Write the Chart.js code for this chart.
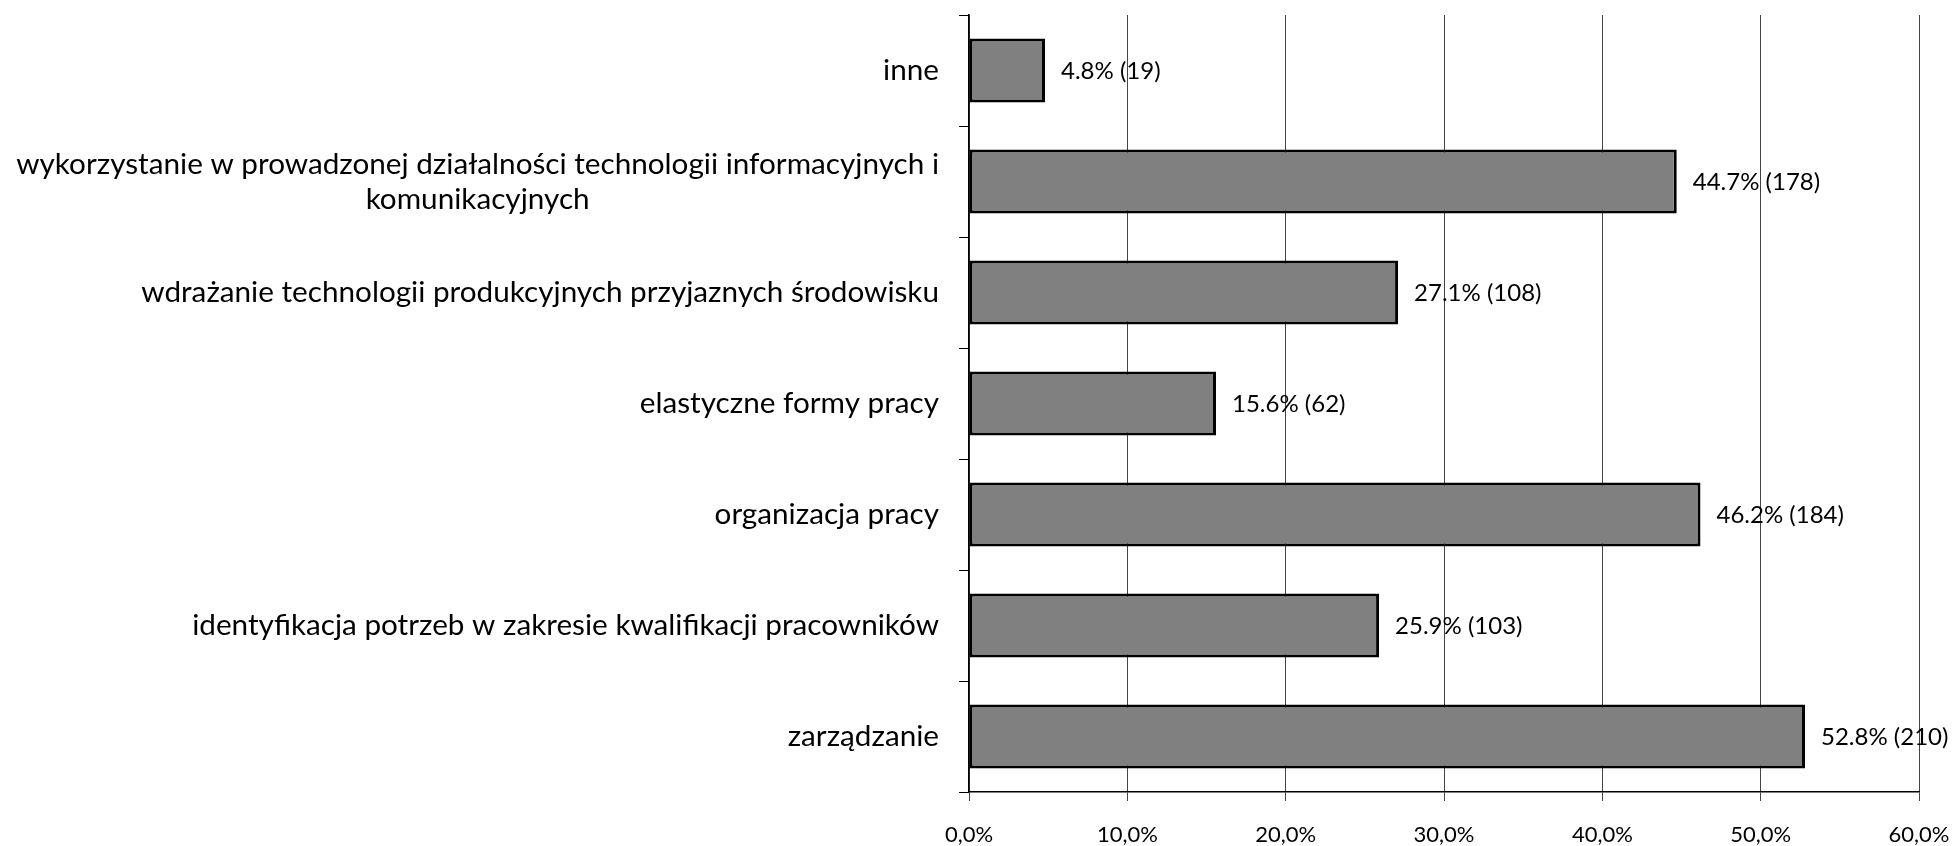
<!DOCTYPE html>
<html>
<head>
<meta charset="utf-8">
<script src="https://cdn.jsdelivr.net/npm/chart.js@4"></script>
<style>
  html, body { margin: 0; padding: 0; background: #fff; }
  #wrap { width: 1957px; height: 846px; position: relative; }
</style>
</head>
<body>
<div id="wrap"><canvas id="c" width="1957" height="846"></canvas></div>
<script>
// Categories, top to bottom
const categories = [
  'inne',
  ['wykorzystanie w prowadzonej działalności technologii informacyjnych i', 'komunikacyjnych'],
  'wdrażanie technologii produkcyjnych przyjaznych środowisku',
  'elastyczne formy pracy',
  'organizacja pracy',
  'identyfikacja potrzeb w zakresie kwalifikacji pracowników',
  'zarządzanie'
];
// Share of respondents (%) and number of answers
const percents = [4.8, 44.7, 27.1, 15.6, 46.2, 25.9, 52.8];
const counts = [19, 178, 108, 62, 184, 103, 210];
// X axis ticks
const xTicks = [0, 10, 20, 30, 40, 50, 60];

const FONT = 'Lato';
const catFont = { family: FONT, size: 29.7 };
const tickFont = { family: FONT, size: 22 };
const valFont = { family: FONT, size: 24 };

// Category labels: each block right-aligned next to the axis, lines centred within the block
const categoryLabels = {
  id: 'categoryLabels',
  afterDraw(chart) {
    const { ctx } = chart;
    const y = chart.scales.y;
    const right = y.right - 10 - 20;
    ctx.save();
    ctx.font = catFont.size + 'px ' + catFont.family;
    ctx.fillStyle = '#000';
    ctx.textBaseline = 'middle';
    ctx.textAlign = 'center';
    const lh = 35;
    categories.forEach((lab, i) => {
      const lines = Array.isArray(lab) ? lab : [lab];
      const w = Math.max(...lines.map(l => ctx.measureText(l).width));
      const cx = right - w / 2;
      const cy = y.getPixelForValue(i);
      const y0 = cy - (lines.length - 1) * lh / 2;
      lines.forEach((l, k) => ctx.fillText(l, cx, y0 + k * lh));
    });
    ctx.restore();
  }
};

// Value labels to the right of each bar
const valueLabels = {
  id: 'valueLabels',
  afterDatasetsDraw(chart) {
    const { ctx } = chart;
    const meta = chart.getDatasetMeta(0);
    ctx.save();
    ctx.font = valFont.size + 'px ' + valFont.family;
    ctx.fillStyle = '#000';
    ctx.textBaseline = 'middle';
    ctx.textAlign = 'left';
    meta.data.forEach((bar, i) => {
      ctx.fillText(percents[i].toFixed(1) + '% (' + counts[i] + ')', bar.x + 16, bar.y + 1);
    });
    ctx.restore();
  }
};

new Chart(document.getElementById('c'), {
  type: 'bar',
  data: {
    labels: categories,
    datasets: [{
      data: percents,
      backgroundColor: '#808080',
      borderColor: '#000',
      borderWidth: 3,
      borderSkipped: false,
      categoryPercentage: 1,
      barPercentage: 0.577
    }]
  },
  options: {
    indexAxis: 'y',
    responsive: false,
    animation: false,
    devicePixelRatio: 1,
    layout: { padding: { top: 15, right: 38, left: 0, bottom: 0 } },
    plugins: { legend: { display: false }, tooltip: { enabled: false } },
    scales: {
      x: {
        min: 0, max: 60,
        afterBuildTicks(s) { s.ticks = xTicks.map(v => ({ value: v })); },
        afterFit(s) { s.height = 54; s.paddingLeft = 0; s.paddingRight = 0; },
        grid: { color: '#444', lineWidth: 1, tickLength: 9, drawOnChartArea: true },
        border: { color: '#000', width: 1.5 },
        ticks: {
          font: tickFont, color: '#000', padding: 21, maxRotation: 0,
          callback: v => v.toFixed(1).replace('.', ',') + '%'
        }
      },
      y: {
        afterFit(s) { s.width = 969; s.paddingTop = 0; s.paddingBottom = 0; },
        grid: { offset: true, drawOnChartArea: false, tickLength: 10, color: '#000', lineWidth: 1 },
        border: { color: '#000', width: 1.5 },
        ticks: { display: false }
      }
    }
  },
  plugins: [categoryLabels, valueLabels]
});
</script>
</body>
</html>
